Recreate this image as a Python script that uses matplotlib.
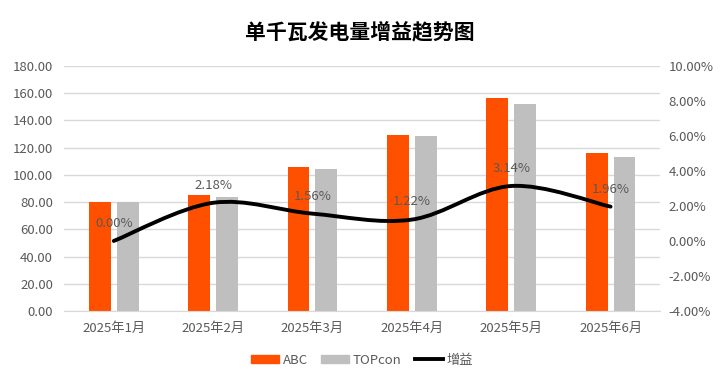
import numpy as np
import matplotlib
matplotlib.use("Agg")
import matplotlib.pyplot as plt
from matplotlib.path import Path
from matplotlib.patches import PathPatch, Patch
from matplotlib.lines import Line2D
from matplotlib.ticker import FuncFormatter, MultipleLocator

plt.rcParams['font.family'] = ['Noto Sans CJK SC', 'DejaVu Sans']

# 数据
months = ['2025年1月', '2025年2月', '2025年3月', '2025年4月', '2025年5月', '2025年6月']
abc = [80.0, 85.3, 105.8, 129.6, 156.4, 115.7]
topcon = [80.0, 83.8, 104.3, 128.3, 151.7, 113.2]
gain = [0.00, 2.18, 1.56, 1.22, 3.14, 1.96]  # %

C_ABC = '#FF5000'
C_TOP = '#BFBFBF'
C_TXT = '#595959'
C_GRID = '#D9D9D9'

fig = plt.figure(figsize=(7.2, 3.83), dpi=100)
ax = fig.add_axes([0.089, 0.188, 0.828, 0.640])
ax2 = ax.twinx()

x = np.arange(len(months))
w = 0.22
ax.bar(x - 0.14, abc, width=w, color=C_ABC, zorder=2)
ax.bar(x + 0.14, topcon, width=w, color=C_TOP, zorder=2)

ax.set_xlim(-0.5, len(months) - 0.5)
ax.set_ylim(0, 180)
ax.yaxis.set_major_locator(MultipleLocator(20))
ax.yaxis.set_major_formatter(FuncFormatter(lambda v, p: f'{v:.2f}'))
ax.grid(axis='y', color=C_GRID, linewidth=1, zorder=0)
ax.set_axisbelow(True)
ax.set_xticks(x)
ax.set_xticklabels(months)

ax2.set_ylim(-4, 10)
ax2.yaxis.set_major_locator(MultipleLocator(2))
ax2.yaxis.set_major_formatter(FuncFormatter(lambda v, p: f'{v:.2f}%'))

for a in (ax, ax2):
    for s in a.spines.values():
        s.set_visible(False)
    a.tick_params(length=0, labelsize=9.5, labelcolor=C_TXT)
ax.spines['bottom'].set_visible(True)
ax.spines['bottom'].set_color(C_GRID)
ax.tick_params(axis='x', pad=8)
ax.tick_params(axis='y', pad=8)
ax2.tick_params(axis='y', pad=6)

# 平滑曲线 (Catmull-Rom -> 三次贝塞尔)
pts = np.column_stack([x, gain]).astype(float)
n = len(pts)
verts = [pts[0]]
codes = [Path.MOVETO]
for i in range(n - 1):
    p0 = pts[i - 1] if i > 0 else pts[i]
    p1 = pts[i]
    p2 = pts[i + 1]
    p3 = pts[i + 2] if i + 2 < n else pts[i + 1]
    c1 = p1 + (p2 - p0) / 6
    c2 = p2 - (p3 - p1) / 6
    verts += [c1, c2, p2]
    codes += [Path.CURVE4] * 3
ax2.add_patch(PathPatch(Path(verts, codes), facecolor='none', edgecolor='black',
                        linewidth=2.8, capstyle='round', zorder=3))

for xi, g in zip(x, gain):
    ax2.annotate(f'{g:.2f}%', (xi, g), xytext=(0, 8), textcoords='offset points',
                 ha='center', va='bottom', fontsize=9.5, color=C_TXT, zorder=4)

fig.text(0.5, 0.916, '单千瓦发电量增益趋势图', ha='center', va='center',
         fontsize=15, fontweight='bold', color='black')

handles = [Patch(color=C_ABC), Patch(color=C_TOP), Line2D([], [], color='black', linewidth=2.8)]
fig.legend(handles, ['ABC', 'TOPcon', '增益'], loc='center', bbox_to_anchor=(0.503, 0.06),
           ncol=3, frameon=False, fontsize=9.5, labelcolor=C_TXT,
           handlelength=2.1, handleheight=0.6, columnspacing=1.0, handletextpad=0.3)

fig.savefig('out.png', dpi=100)
